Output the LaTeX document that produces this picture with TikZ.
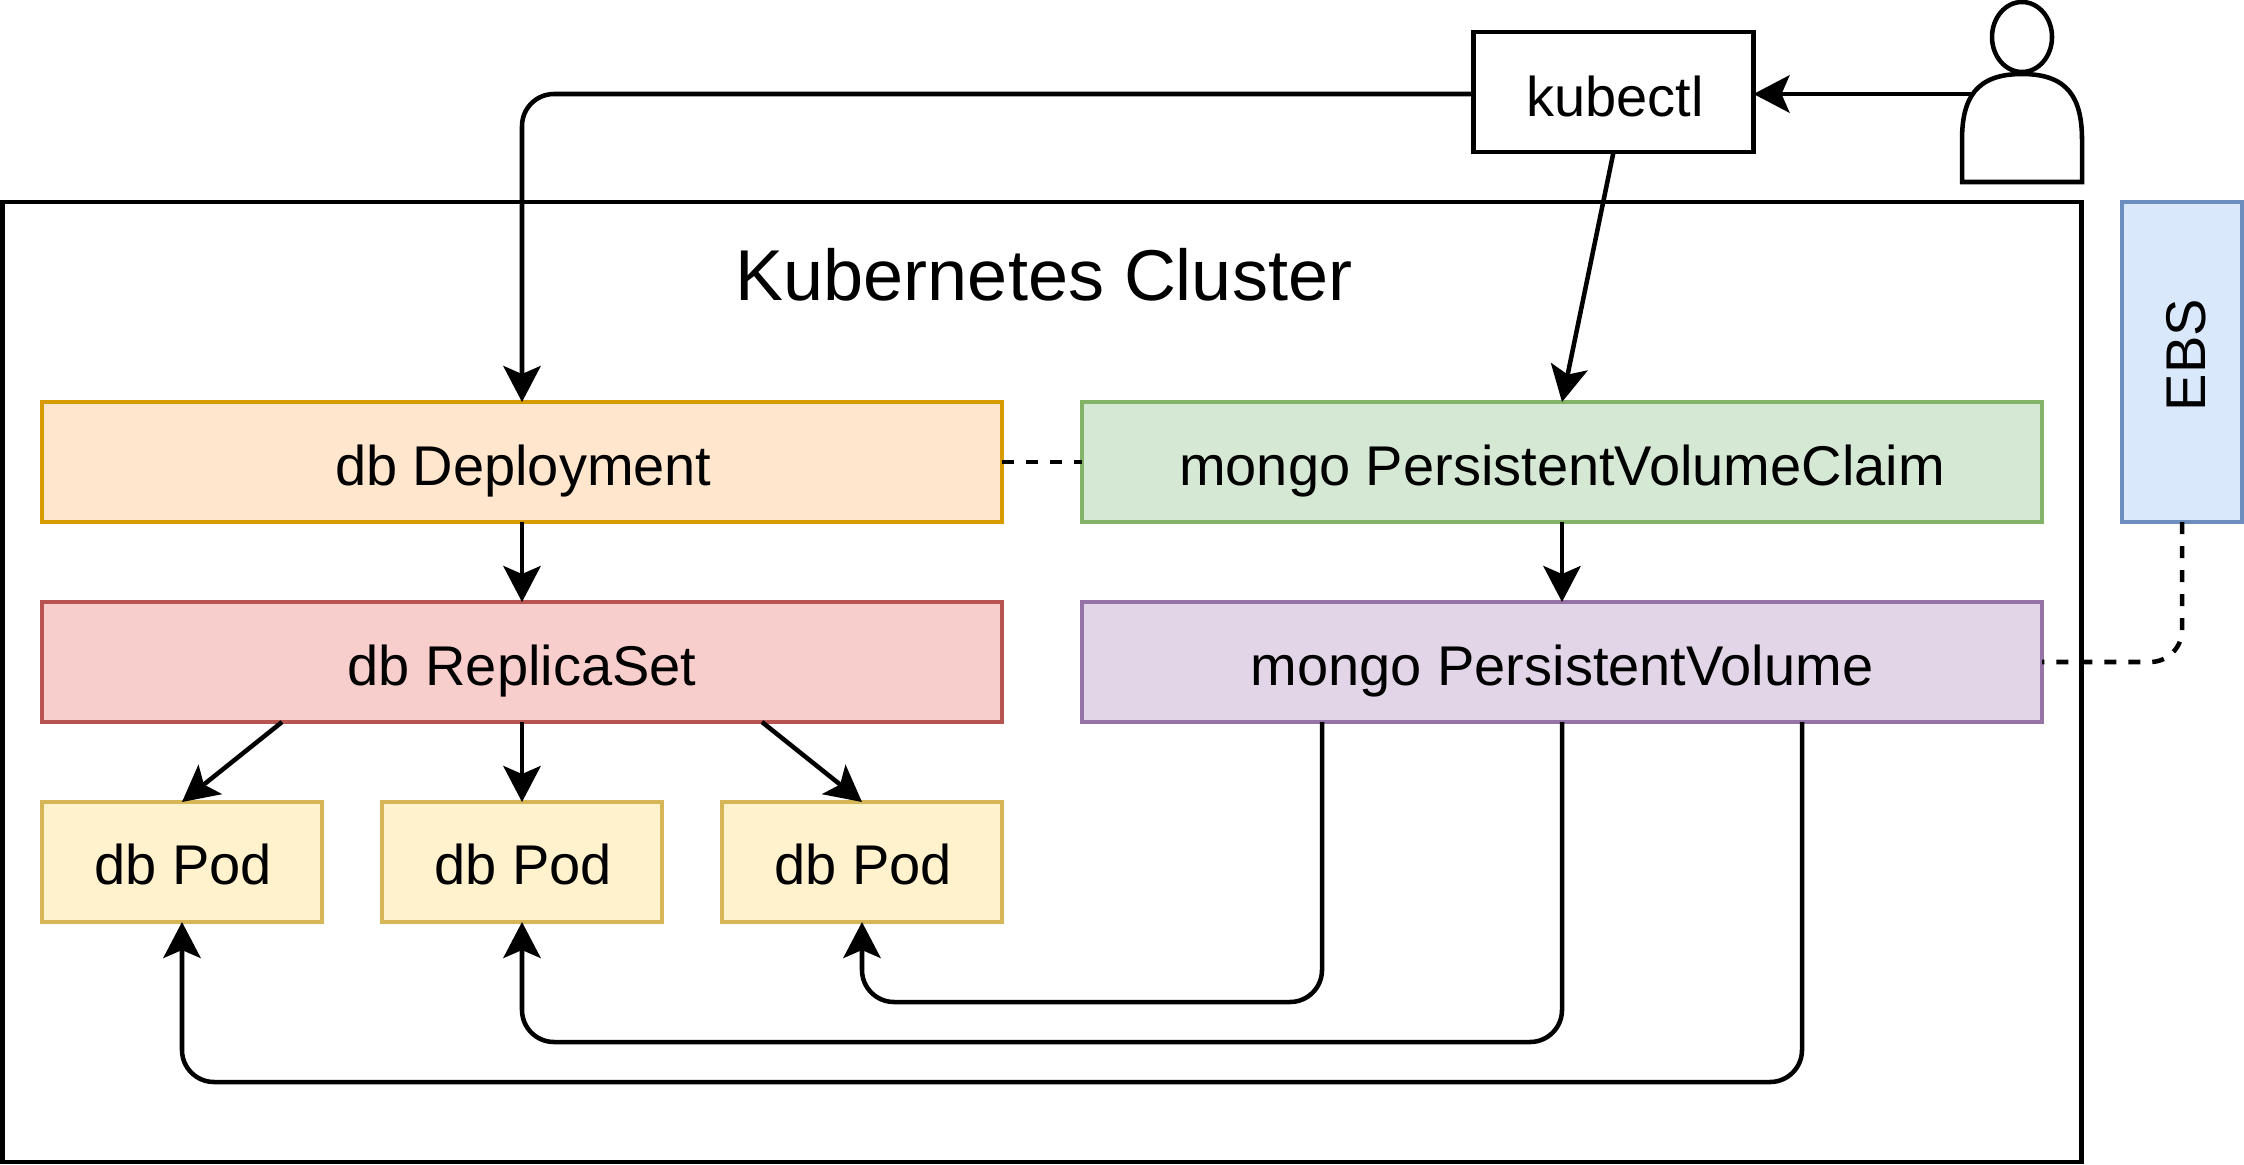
\documentclass[tikz,border=0pt]{standalone}
\usepackage{fontspec}
\setmainfont{Liberation Sans}
\usetikzlibrary{arrows.meta,calc,shapes.geometric}
\definecolor{orangef}{HTML}{FFE6CC}\definecolor{oranged}{HTML}{D79B00}
\definecolor{greenf}{HTML}{D5E8D4}\definecolor{greend}{HTML}{82B366}
\definecolor{purplef}{HTML}{E1D5E7}\definecolor{purpled}{HTML}{9673A6}
\definecolor{redf}{HTML}{F8CECC}\definecolor{redd}{HTML}{B85450}
\definecolor{yellowf}{HTML}{FFF2CC}\definecolor{yellowd}{HTML}{D6B656}
\definecolor{bluef}{HTML}{DAE8FC}\definecolor{blued}{HTML}{6C8EBF}
\tikzset{
  box/.style={rectangle,draw,line width=3.4pt,inner sep=0pt,outer sep=0pt,
    font=\fontsize{42}{50}\selectfont},
  wide/.style={box,minimum width=720pt,minimum height=90pt,text height=34.5pt,text depth=0pt},
  small/.style={box,minimum width=210pt,minimum height=90pt,text height=33.5pt,text depth=0pt},
  conn/.style={line width=3.4pt,-{Stealth[length=27pt,width=28pt,inset=6pt]},rounded corners=24pt},
  dashconn/.style={line width=3.4pt,dash pattern=on 9pt off 9pt,rounded corners=24pt}
}
\begin{document}
\begin{tikzpicture}[x=0.75pt,y=-0.75pt]
\useasboundingbox (0,0) rectangle (2244,1164);
% cluster
\node[box,minimum width=1559.5pt,minimum height=720pt] (cluster) at (1042,682) {};
\node[font=\fontsize{54}{64}\selectfont,inner sep=0pt] (title) at (1044,275) {Kubernetes Cluster};
% boxes
\node[small,fill=white,text height=36pt] (kubectl) at (1613.5,92) {\hspace*{2pt}kubectl};
\node[wide,fill=orangef,draw=oranged] (deploy) at (522,462) {\hspace*{2pt}db Deployment};
\node[wide,fill=greenf,draw=greend] (pvc) at (1562,462) {mongo PersistentVolumeClaim};
\node[wide,fill=redf,draw=redd] (rs) at (522,662) {db ReplicaSet};
\node[wide,fill=purplef,draw=purpled] (pv) at (1562,662) {mongo PersistentVolume};
\node[small,fill=yellowf,draw=yellowd] (pod1) at (182,862) {\hspace*{2pt}db Pod};
\node[small,fill=yellowf,draw=yellowd] (pod2) at (522,862) {\hspace*{2pt}db Pod};
\node[small,fill=yellowf,draw=yellowd] (pod3) at (862,862) {\hspace*{2pt}db Pod};
\node[box,fill=bluef,draw=blued,rotate=90,minimum width=240pt,minimum height=90pt,text height=34.5pt,text depth=0pt] (ebs) at (2182,362) {\hspace*{10.5pt}EBS};
% person
\node[ellipse,draw,line width=3.4pt,inner sep=0pt,outer sep=0pt,minimum width=45pt,minimum height=52.5pt] (head) at (2022,37) {};
\draw[line width=3.4pt,line join=miter] (1962,182) -- (1962,140)
  .. controls (1962,98) and (1976,74) .. (2022,74)
  .. controls (2068,74) and (2082,98) .. (2082,140) -- (2082,182) -- cycle;
\coordinate (person) at (1971,94);
% connectors
\draw[conn] (person) -- ([yshift=-1.5pt]kubectl.east);
\draw[conn] ([yshift=-1.5pt]kubectl.west) -| (deploy.north);
\draw[conn] (kubectl.south) -- (pvc.north);
\draw[conn] (deploy.south) -- (rs.north);
\draw[conn] (pvc.south) -- (pv.north);
\draw[conn] ($(rs.south west)!.25!(rs.south east)$) -- (pod1.north);
\draw[conn] (rs.south) -- (pod2.north);
\draw[conn] ($(rs.south west)!.75!(rs.south east)$) -- (pod3.north);
\draw[conn] ($(pv.south west)!.25!(pv.south east)$) |- (862,1002) -- (pod3.south);
\draw[conn] (pv.south) |- (522,1042) -- (pod2.south);
\draw[conn] ($(pv.south west)!.75!(pv.south east)$) |- (182,1082) -- (pod1.south);
\draw[dashconn] (deploy.east) -- (pvc.west);
\draw[dashconn] (ebs.west) |- (pv.east);
\end{tikzpicture}
\end{document}
